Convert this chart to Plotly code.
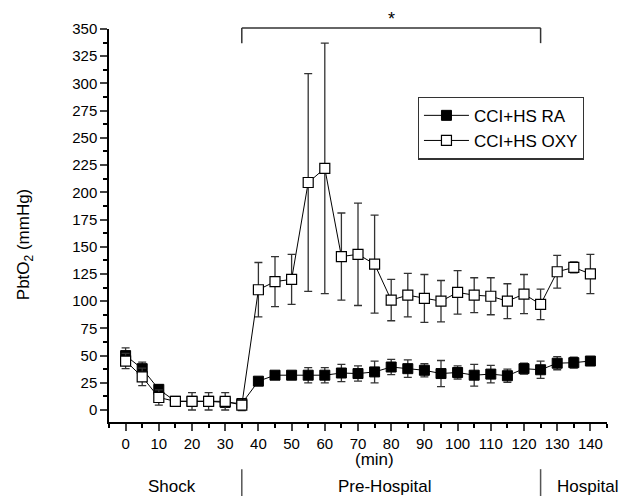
import plotly.graph_objects as go

# ---- data ----
time_min = [0, 5, 10, 15, 20, 25, 30, 35, 40, 45, 50, 55, 60, 65, 70, 75, 80, 85, 90, 95,
            100, 105, 110, 115, 120, 125, 130, 135, 140]
ra_mean = [50, 38, 19, 8, 8, 8, 7, 6, 26.5, 32, 32, 32, 32, 34, 33.5, 35, 39.5, 38, 36.5, 33.5,
           34.5, 32, 33, 31.5, 38, 37, 43, 43.5, 45]
ra_err = [7, 6, 4, 3, 3, 3, 3, 3, 2, 3, 3, 7, 7, 8, 7, 10, 7, 8, 6, 12,
          6, 10, 8, 6, 5, 8, 6, 5, 2]
oxy_mean = [45, 30.5, 11.5, 8, 8, 8, 8, 4.5, 110.5, 118, 120, 209, 222, 141, 143, 134, 101, 105.5, 102.5, 100,
            108, 105.5, 104.5, 100, 106.5, 97, 127, 131, 125]
oxy_err = [7, 8, 7, 3, 8, 8, 8, 5, 25, 23, 23, 100, 115, 40, 47, 45, 19, 20, 22, 19,
           20, 16, 17, 16, 18, 14, 15, 5, 18]
series_names = ["CCI+HS RA", "CCI+HS OXY"]
phase_labels = ["Shock", "Pre-Hospital", "Hospital"]
phase_label_t = [14, 78, 139]
phase_bounds = [35, 125]
sig_span = [35, 125]

X_RANGE = [-5, 145]
Y_RANGE = [-11, 350]
FONT = "Arial, Liberation Sans, sans-serif"


def xp(t):
    return (t - X_RANGE[0]) / (X_RANGE[1] - X_RANGE[0])


def yp(v):
    return (v - Y_RANGE[0]) / (Y_RANGE[1] - Y_RANGE[0])


fig = go.Figure()
fig.add_trace(go.Scatter(
    x=time_min, y=ra_mean, name=series_names[0], mode="lines+markers",
    line=dict(color="black", width=1),
    marker=dict(symbol="square", size=10, color="black", line=dict(color="black", width=1)),
    error_y=dict(type="data", array=ra_err, visible=True, color="#333333", thickness=1.3, width=4),
    cliponaxis=False,
))
fig.add_trace(go.Scatter(
    x=time_min, y=oxy_mean, name=series_names[1], mode="lines+markers",
    line=dict(color="black", width=1),
    marker=dict(symbol="square", size=10, color="white", line=dict(color="black", width=1.2)),
    error_y=dict(type="data", array=oxy_err, visible=True, color="#333333", thickness=1.3, width=4),
    cliponaxis=False,
))

shapes = []
# significance bracket
by = yp(351)
bd = yp(337)
shapes.append(dict(type="line", xref="paper", yref="paper", x0=xp(sig_span[0]), x1=xp(sig_span[1]),
                   y0=by, y1=by, line=dict(color="#333333", width=1.5)))
for t in sig_span:
    shapes.append(dict(type="line", xref="paper", yref="paper", x0=xp(t), x1=xp(t),
                       y0=by, y1=bd, line=dict(color="#333333", width=1.5)))
# phase dividers below axis
for t in phase_bounds:
    shapes.append(dict(type="line", xref="paper", yref="paper", x0=xp(t), x1=xp(t),
                       y0=-0.12, y1=-0.19, line=dict(color="#555555", width=1.5)))

TOP = 1 + 19 / 395  # paper y of figure top edge
annotations = [
    dict(text="*", xref="paper", yref="paper", x=xp(80), y=TOP + 3 / 395, showarrow=False,
         font=dict(size=18, color="black", family=FONT), xanchor="center", yanchor="top"),
    dict(text="(min)", xref="paper", yref="paper", x=xp(75), y=-0.096, showarrow=False,
         font=dict(size=17, color="black", family=FONT), xanchor="center", yanchor="middle"),
]
for lab, t in zip(phase_labels, phase_label_t):
    annotations.append(dict(text=lab, xref="paper", yref="paper", x=xp(t), y=-0.164,
                            showarrow=False, xanchor="center", yanchor="middle",
                            font=dict(size=17, color="black", family=FONT)))
annotations.append(dict(text="PbtO<sub>2</sub> (mmHg)", xref="paper", yref="paper",
                        x=-0.167, y=0.452, textangle=-90, showarrow=False,
                        xanchor="center", yanchor="middle",
                        font=dict(size=17, color="black", family=FONT)))

# page body has an 8px margin: size the figure so the visible frame matches 630x504
fig.update_layout(
    width=614, height=488,
    margin=dict(l=101, r=15, t=19, b=74),
    paper_bgcolor="white", plot_bgcolor="white",
    font=dict(family=FONT, size=15, color="black"),
    showlegend=True,
    legend=dict(x=0.62, y=0.828, xanchor="left", yanchor="top",
                bordercolor="#333333", borderwidth=1.2, bgcolor="white",
                font=dict(size=17, family=FONT, color="black"),
                itemwidth=45, tracegroupgap=0),
    shapes=shapes,
    annotations=annotations,
)
fig.update_xaxes(
    range=X_RANGE, tick0=0, dtick=10, ticks="outside", ticklen=7, tickwidth=1.5,
    showline=True, linecolor="black", linewidth=1.5, showgrid=False, zeroline=False,
    tickfont=dict(size=15, family=FONT),
    minor=dict(dtick=5, tick0=0, ticks="outside", ticklen=4, tickwidth=1.5, tickcolor="black", showgrid=False),
)
fig.update_yaxes(
    range=Y_RANGE, tick0=0, dtick=25, ticks="outside", ticklen=7, tickwidth=1.5,
    showline=True, linecolor="black", linewidth=1.5, showgrid=False, zeroline=False,
    tickfont=dict(size=15, family=FONT), ticklabelstandoff=0,
    minor=dict(dtick=12.5, tick0=0, ticks="outside", ticklen=4, tickwidth=1.5, tickcolor="black", showgrid=False),
)

fig.write_html("out.html")
